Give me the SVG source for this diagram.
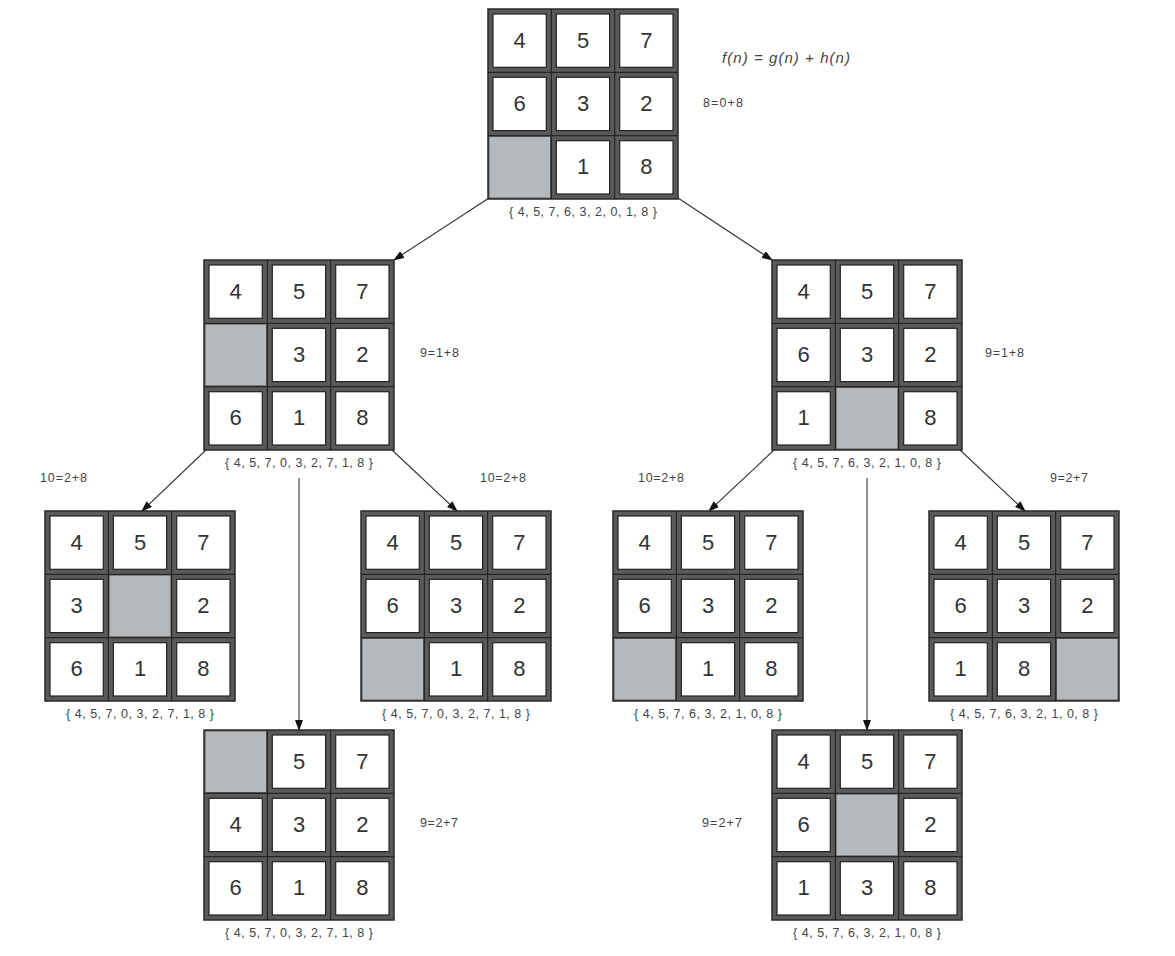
<svg xmlns="http://www.w3.org/2000/svg" xmlns:xlink="http://www.w3.org/1999/xlink" width="1175" height="956" viewBox="0 0 1175 956">
<style>
.num{font-family:"Liberation Sans",Arial,sans-serif;font-size:22px;fill:#333;text-anchor:middle}
.set{font-family:"Liberation Sans",Arial,sans-serif;font-size:12.5px;fill:#444;text-anchor:middle}
.fx{font-family:"Liberation Sans",Arial,sans-serif;font-size:12.5px;fill:#444}
.eq{font-family:"Liberation Sans",Arial,sans-serif;font-size:15px;font-style:italic;fill:#444}
.blank{fill:#b5b9bc}
.con{stroke:#333;stroke-width:1.1;fill:none;marker-end:url(#arr)}
</style>
<defs>
<marker id="arr" markerWidth="11" markerHeight="8" refX="10" refY="4" orient="auto" markerUnits="userSpaceOnUse">
<path d="M0,0 L11,4 L0,8 z" fill="#111"/>
</marker>
<g id="frame">
<rect x="0" y="0" width="190" height="190" fill="#5a5a5a" stroke="#2a2a2a" stroke-width="1.5"/>
<g fill="#fff" stroke="#222" stroke-width="1.2">
<rect x="5" y="5" width="53.3" height="53.3"/><rect x="68.3" y="5" width="53.3" height="53.3"/><rect x="131.7" y="5" width="53.3" height="53.3"/>
<rect x="5" y="68.3" width="53.3" height="53.3"/><rect x="68.3" y="68.3" width="53.3" height="53.3"/><rect x="131.7" y="68.3" width="53.3" height="53.3"/>
<rect x="5" y="131.7" width="53.3" height="53.3"/><rect x="68.3" y="131.7" width="53.3" height="53.3"/><rect x="131.7" y="131.7" width="53.3" height="53.3"/>
</g>
<g stroke="#1a1a1a" stroke-width="1">
<line x1="63.3" y1="0" x2="63.3" y2="190"/><line x1="126.7" y1="0" x2="126.7" y2="190"/>
<line x1="0" y1="63.3" x2="190" y2="63.3"/><line x1="0" y1="126.7" x2="190" y2="126.7"/>
</g>
</g>
</defs>
<rect width="1175" height="956" fill="#fff"/>

<g id="connectors">
<path class="con" d="M489,198 L394,260"/>
<path class="con" d="M678,198 L772,260"/>
<path class="con" d="M206,450 L142,511"/>
<path class="con" d="M299,478 L299,730"/>
<path class="con" d="M392,450 L457,511"/>
<path class="con" d="M774,450 L709,511"/>
<path class="con" d="M867,478 L867,730"/>
<path class="con" d="M960,450 L1025,511"/>
</g>

<g id="n0" transform="translate(488,9)">
<use xlink:href="#frame" href="#frame"/>
<rect class="blank" x="1.5" y="128" width="60.5" height="60.5"/>
<text class="num" x="31.7" y="39">4</text><text class="num" x="95" y="39">5</text><text class="num" x="158.3" y="39">7</text>
<text class="num" x="31.7" y="102">6</text><text class="num" x="95" y="102">3</text><text class="num" x="158.3" y="102">2</text>
<text class="num" x="95" y="165">1</text><text class="num" x="158.3" y="165">8</text>
<text class="set" x="95" y="207" textLength="148" lengthAdjust="spacing">{ 4, 5, 7, 6, 3, 2, 0, 1, 8 }</text>
</g>

<g id="n1" transform="translate(204,260)">
<use xlink:href="#frame" href="#frame"/>
<rect class="blank" x="1.5" y="64.6" width="60.5" height="60.8"/>
<text class="num" x="31.7" y="39">4</text><text class="num" x="95" y="39">5</text><text class="num" x="158.3" y="39">7</text>
<text class="num" x="95" y="102">3</text><text class="num" x="158.3" y="102">2</text>
<text class="num" x="31.7" y="165">6</text><text class="num" x="95" y="165">1</text><text class="num" x="158.3" y="165">8</text>
<text class="set" x="95" y="207" textLength="148" lengthAdjust="spacing">{ 4, 5, 7, 0, 3, 2, 7, 1, 8 }</text>
</g>

<g id="n2" transform="translate(772,260)">
<use xlink:href="#frame" href="#frame"/>
<rect class="blank" x="64.6" y="128" width="60.8" height="60.5"/>
<text class="num" x="31.7" y="39">4</text><text class="num" x="95" y="39">5</text><text class="num" x="158.3" y="39">7</text>
<text class="num" x="31.7" y="102">6</text><text class="num" x="95" y="102">3</text><text class="num" x="158.3" y="102">2</text>
<text class="num" x="31.7" y="165">1</text><text class="num" x="158.3" y="165">8</text>
<text class="set" x="95" y="207" textLength="148" lengthAdjust="spacing">{ 4, 5, 7, 6, 3, 2, 1, 0, 8 }</text>
</g>

<g id="n3" transform="translate(45,511)">
<use xlink:href="#frame" href="#frame"/>
<rect class="blank" x="64.6" y="64.6" width="60.8" height="60.8"/>
<text class="num" x="31.7" y="39">4</text><text class="num" x="95" y="39">5</text><text class="num" x="158.3" y="39">7</text>
<text class="num" x="31.7" y="102">3</text><text class="num" x="158.3" y="102">2</text>
<text class="num" x="31.7" y="165">6</text><text class="num" x="95" y="165">1</text><text class="num" x="158.3" y="165">8</text>
<text class="set" x="95" y="207" textLength="148" lengthAdjust="spacing">{ 4, 5, 7, 0, 3, 2, 7, 1, 8 }</text>
</g>

<g id="n4" transform="translate(361,511)">
<use xlink:href="#frame" href="#frame"/>
<rect class="blank" x="1.5" y="128" width="60.5" height="60.5"/>
<text class="num" x="31.7" y="39">4</text><text class="num" x="95" y="39">5</text><text class="num" x="158.3" y="39">7</text>
<text class="num" x="31.7" y="102">6</text><text class="num" x="95" y="102">3</text><text class="num" x="158.3" y="102">2</text>
<text class="num" x="95" y="165">1</text><text class="num" x="158.3" y="165">8</text>
<text class="set" x="95" y="207" textLength="148" lengthAdjust="spacing">{ 4, 5, 7, 0, 3, 2, 7, 1, 8 }</text>
</g>

<g id="n5" transform="translate(613,511)">
<use xlink:href="#frame" href="#frame"/>
<rect class="blank" x="1.5" y="128" width="60.5" height="60.5"/>
<text class="num" x="31.7" y="39">4</text><text class="num" x="95" y="39">5</text><text class="num" x="158.3" y="39">7</text>
<text class="num" x="31.7" y="102">6</text><text class="num" x="95" y="102">3</text><text class="num" x="158.3" y="102">2</text>
<text class="num" x="95" y="165">1</text><text class="num" x="158.3" y="165">8</text>
<text class="set" x="95" y="207" textLength="148" lengthAdjust="spacing">{ 4, 5, 7, 6, 3, 2, 1, 0, 8 }</text>
</g>

<g id="n6" transform="translate(929,511)">
<use xlink:href="#frame" href="#frame"/>
<rect class="blank" x="128" y="128" width="60.5" height="60.5"/>
<text class="num" x="31.7" y="39">4</text><text class="num" x="95" y="39">5</text><text class="num" x="158.3" y="39">7</text>
<text class="num" x="31.7" y="102">6</text><text class="num" x="95" y="102">3</text><text class="num" x="158.3" y="102">2</text>
<text class="num" x="31.7" y="165">1</text><text class="num" x="95" y="165">8</text>
<text class="set" x="95" y="207" textLength="148" lengthAdjust="spacing">{ 4, 5, 7, 6, 3, 2, 1, 0, 8 }</text>
</g>

<g id="n7" transform="translate(204,730)">
<use xlink:href="#frame" href="#frame"/>
<rect class="blank" x="1.5" y="1.5" width="60.5" height="60.5"/>
<text class="num" x="95" y="39">5</text><text class="num" x="158.3" y="39">7</text>
<text class="num" x="31.7" y="102">4</text><text class="num" x="95" y="102">3</text><text class="num" x="158.3" y="102">2</text>
<text class="num" x="31.7" y="165">6</text><text class="num" x="95" y="165">1</text><text class="num" x="158.3" y="165">8</text>
<text class="set" x="95" y="207" textLength="148" lengthAdjust="spacing">{ 4, 5, 7, 0, 3, 2, 7, 1, 8 }</text>
</g>

<g id="n8" transform="translate(772,730)">
<use xlink:href="#frame" href="#frame"/>
<rect class="blank" x="64.6" y="64.6" width="60.8" height="60.8"/>
<text class="num" x="31.7" y="39">4</text><text class="num" x="95" y="39">5</text><text class="num" x="158.3" y="39">7</text>
<text class="num" x="31.7" y="102">6</text><text class="num" x="158.3" y="102">2</text>
<text class="num" x="31.7" y="165">1</text><text class="num" x="95" y="165">3</text><text class="num" x="158.3" y="165">8</text>
<text class="set" x="95" y="207" textLength="148" lengthAdjust="spacing">{ 4, 5, 7, 6, 3, 2, 1, 0, 8 }</text>
</g>

<g id="labels">
<text class="eq" x="722" y="63" textLength="128" lengthAdjust="spacing">f(n) = g(n) + h(n)</text>
<text class="fx" x="703" y="107" textLength="40" lengthAdjust="spacing">8=0+8</text>
<text class="fx" x="420" y="357" textLength="39" lengthAdjust="spacing">9=1+8</text>
<text class="fx" x="985" y="357" textLength="39" lengthAdjust="spacing">9=1+8</text>
<text class="fx" x="40" y="482" textLength="47" lengthAdjust="spacing">10=2+8</text>
<text class="fx" x="480" y="482" textLength="46" lengthAdjust="spacing">10=2+8</text>
<text class="fx" x="638" y="482" textLength="46" lengthAdjust="spacing">10=2+8</text>
<text class="fx" x="1050" y="482" textLength="38" lengthAdjust="spacing">9=2+7</text>
<text class="fx" x="420" y="827" textLength="38" lengthAdjust="spacing">9=2+7</text>
<text class="fx" x="702" y="827" textLength="40" lengthAdjust="spacing">9=2+7</text>
</g>
</svg>
